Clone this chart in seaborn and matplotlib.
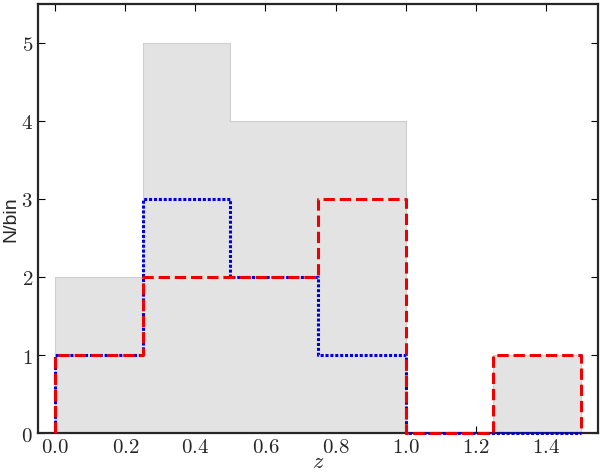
import numpy as np
import matplotlib
matplotlib.use("Agg")
import matplotlib.pyplot as plt
import seaborn as sns
from matplotlib.ticker import FuncFormatter

# bin edges in redshift and counts per bin
bin_edges = [0.0, 0.25, 0.5, 0.75, 1.0, 1.25, 1.5]
bin_centers = [0.125, 0.375, 0.625, 0.875, 1.125, 1.375]
all_counts = [2, 5, 4, 4, 0, 1]
blue_counts = [1, 3, 2, 1, 0, 0]
red_counts = [1, 2, 2, 3, 0, 1]

sns.set_style("ticks")
plt.rcParams["mathtext.fontset"] = "cm"
plt.rcParams["font.family"] = ["Liberation Sans", "DejaVu Sans"]

fig, ax = plt.subplots(figsize=(6.0, 4.77), dpi=100)
fig.subplots_adjust(left=0.063, right=0.997, top=0.99, bottom=0.09)

sns.histplot(x=bin_centers, weights=all_counts, bins=bin_edges, element="step",
             fill=True, color="#e3e3e3", alpha=1.0, edgecolor="#cfcfcf",
             linewidth=0.8, ax=ax)
sns.histplot(x=bin_centers, weights=blue_counts, bins=bin_edges, element="step",
             fill=False, color="#0000dd", linestyle=(0, (1, 0.6)), linewidth=2.2, ax=ax)
sns.histplot(x=bin_centers, weights=red_counts, bins=bin_edges, element="step",
             fill=False, color="#ee0000", linestyle="--", linewidth=2.2, ax=ax)

# close the step outlines down to the baseline, like histtype="step"
for line in ax.lines:
    x, y = line.get_data()
    x, y = np.asarray(x), np.asarray(y)
    line.set_data(np.r_[x[0], x, x[-1]], np.r_[0, y, 0])
    line.set_clip_on(False)
    line.set_zorder(3)

ax.set_xlim(-0.05, 1.55)
ax.set_ylim(0, 5.5)
ax.set_xticks(np.arange(0, 1.41, 0.2))
ax.set_yticks(range(0, 6))
ax.xaxis.set_major_formatter(FuncFormatter(lambda v, p: f"${v:.1f}$"))
ax.yaxis.set_major_formatter(FuncFormatter(lambda v, p: f"${v:.0f}$"))
ax.tick_params(direction="in", top=True, right=True, length=5, width=0.8,
               labelsize=15, color="black")
ax.tick_params(axis="x", pad=3)
for s in ax.spines.values():
    s.set_linewidth(1.6)
    s.set_visible(True)
ax.set_xlabel("$z$", fontsize=16, labelpad=-4)
ax.set_ylabel("N/bin", fontsize=14, labelpad=1)

fig.savefig("out.png", dpi=100)
